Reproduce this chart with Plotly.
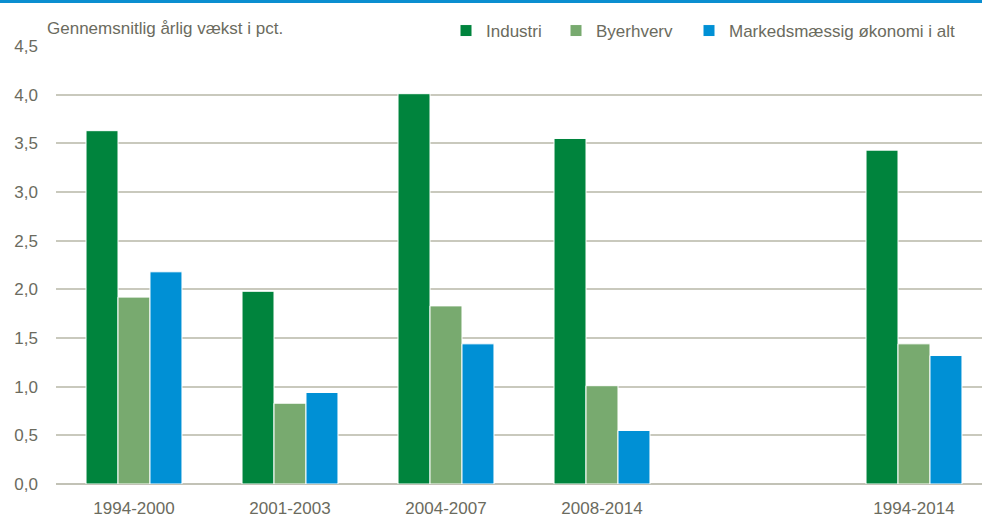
import plotly.graph_objects as go

categories = ["1994-2000", "2001-2003", "2004-2007", "2008-2014", " ", "1994-2014"]
industri = [3.63, 1.98, 4.01, 3.55, None, 3.43]
byerhverv = [1.92, 0.83, 1.83, 1.01, None, 1.44]
markeds = [2.18, 0.94, 1.44, 0.55, None, 1.32]
series_names = ["Industri", "Byerhverv", "Markedsmæssig økonomi i alt"]
colors = ["#00843d", "#78aa6f", "#0090d5"]
ytick_vals = [0, 0.5, 1, 1.5, 2, 2.5, 3, 3.5, 4, 4.5]

FONT = "Liberation Sans, Arial, sans-serif"
FS = 17
TXT = "#6b6b5e"

W, H = 982, 520
L, R, T, B = 56, 0, 46, 36
pw, ph = W - L - R, H - T - B

legend_ids = ["legend", "legend2", "legend3"]
legend_px = [446, 556, 689]

fig = go.Figure()
for name, vals, col, lid in zip(series_names, [industri, byerhverv, markeds], colors, legend_ids):
    fig.add_trace(go.Bar(
        x=categories, y=vals, name=name, legend=lid,
        marker=dict(color=col, line=dict(color="white", width=1)),
    ))

legend_common = dict(
    orientation="h", xanchor="left", yanchor="middle",
    y=1 + (T - 31) / ph, bgcolor="rgba(0,0,0,0)", borderwidth=0,
    font=dict(family=FONT, size=FS, color=TXT), itemwidth=30,
)
legend_layout = {}
for lid, px in zip(legend_ids, legend_px):
    legend_layout[lid] = dict(legend_common, x=(px - L) / pw)

fig.update_layout(
    width=W, height=H,
    margin=dict(l=L, r=R, t=T, b=B, autoexpand=False),
    paper_bgcolor="white", plot_bgcolor="white",
    barmode="group", bargap=0.385, bargroupgap=0,
    separators=", ",
    font=dict(family=FONT, size=FS, color=TXT),
    showlegend=True,
    xaxis=dict(
        type="category", categoryorder="array", categoryarray=categories,
        range=[-0.5, 5.5 - 10 / 156], automargin=False,
        showgrid=False, showline=False, zeroline=False,
        ticks="", ticklabelstandoff=12,
        tickfont=dict(family=FONT, size=FS, color=TXT),
    ),
    yaxis=dict(
        range=[0, 4.5], tickvals=ytick_vals, tickformat=".1f", automargin=False,
        showgrid=True, gridcolor="#c9c9bd", gridwidth=1.5,
        zeroline=True, zerolinecolor="#c2c2b6", zerolinewidth=2,
        showline=False, ticks="", ticklabelstandoff=17,
        tickfont=dict(family=FONT, size=FS, color=TXT),
    ),
    annotations=[dict(
        text="Gennemsnitlig årlig vækst i pct.",
        xref="paper", yref="paper", x=(45 - L) / pw, y=1 + (T - 29) / ph,
        xanchor="left", yanchor="middle", showarrow=False,
        font=dict(family=FONT, size=FS, color=TXT),
    )],
    shapes=[dict(
        type="line", xref="paper", yref="paper",
        x0=-L / pw, x1=1 + 5 / pw, y0=1 + (T - 1.5) / ph, y1=1 + (T - 1.5) / ph,
        line=dict(color="#0a8ed0", width=3),
    )],
    **legend_layout,
)

fig.write_html(
    "out.html",
    config={"displayModeBar": False},
    post_script="document.body.style.margin='0';document.body.style.overflow='hidden';",
)
